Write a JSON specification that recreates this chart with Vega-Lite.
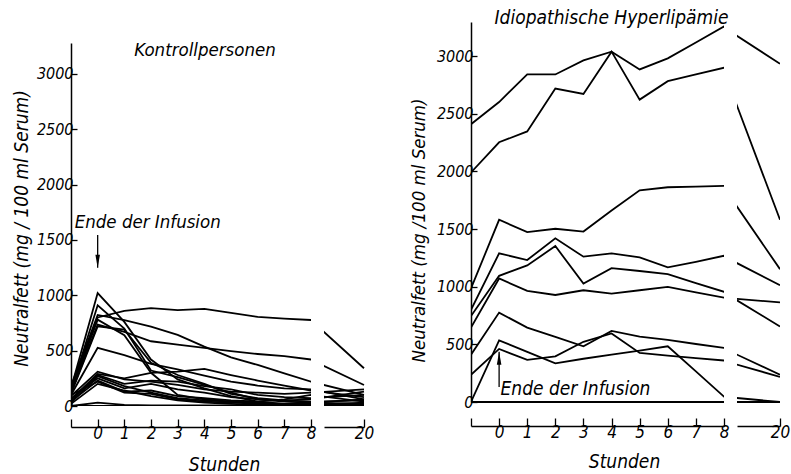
{
"$schema": "https://vega.github.io/schema/vega-lite/v6.json",
"background": "white",
"padding": {"left": 12, "top": 9, "right": 5, "bottom": 5},
"spacing": 13,
"bounds": "flush",
"config": {
  "view": {"stroke": null},
  "font": "DejaVu Sans Condensed, Liberation Sans Narrow, DejaVu Sans, sans-serif",
  "axis": {"grid": false, "labelOverlap": false, "labelFlush": false, "tickCount": 20, "labelFont": "DejaVu Sans Condensed, Liberation Sans Narrow, DejaVu Sans, sans-serif", "titleFont": "DejaVu Sans Condensed, Liberation Sans Narrow, DejaVu Sans, sans-serif", "labelFontStyle": "italic", "titleFontStyle": "italic", "titleFontWeight": "normal", "labelColor": "black", "titleColor": "black", "domainColor": "black", "tickColor": "black", "domainWidth": 1.5, "tickWidth": 1.3},
  "title": {"font": "DejaVu Sans Condensed, Liberation Sans Narrow, DejaVu Sans, sans-serif", "fontStyle": "italic", "fontWeight": "normal", "fontSize": 18.5, "color": "black"}
},
"datasets": {
"left": [
{"s":"K1","h":-1,"v":150},{"s":"K1","h":0,"v":800},{"s":"K1","h":1,"v":860},{"s":"K1","h":2,"v":885},{"s":"K1","h":3,"v":866},{"s":"K1","h":4,"v":878},{"s":"K1","h":5,"v":842},{"s":"K1","h":6,"v":805},{"s":"K1","h":7,"v":790},{"s":"K1","h":8,"v":777},{"s":"K1","h":20,"v":341},
{"s":"K2","h":-1,"v":120},{"s":"K2","h":0,"v":735},{"s":"K2","h":1,"v":670},{"s":"K2","h":2,"v":585},{"s":"K2","h":3,"v":555},{"s":"K2","h":4,"v":525},{"s":"K2","h":5,"v":495},{"s":"K2","h":6,"v":470},{"s":"K2","h":7,"v":450},{"s":"K2","h":8,"v":420},{"s":"K2","h":20,"v":190},
{"s":"K3","h":-1,"v":180},{"s":"K3","h":0,"v":823},{"s":"K3","h":1,"v":777},{"s":"K3","h":2,"v":717},{"s":"K3","h":3,"v":642},{"s":"K3","h":4,"v":536},{"s":"K3","h":5,"v":440},{"s":"K3","h":6,"v":371},{"s":"K3","h":7,"v":295},{"s":"K3","h":8,"v":220},{"s":"K3","h":20,"v":100},
{"s":"K4","h":-1,"v":100},{"s":"K4","h":0,"v":525},{"s":"K4","h":1,"v":460},{"s":"K4","h":2,"v":380},{"s":"K4","h":3,"v":330},{"s":"K4","h":4,"v":275},{"s":"K4","h":5,"v":220},{"s":"K4","h":6,"v":185},{"s":"K4","h":7,"v":160},{"s":"K4","h":8,"v":150},{"s":"K4","h":20,"v":60},
{"s":"K5","h":-1,"v":160},{"s":"K5","h":0,"v":1020},{"s":"K5","h":1,"v":760},{"s":"K5","h":2,"v":420},{"s":"K5","h":3,"v":240},{"s":"K5","h":4,"v":160},{"s":"K5","h":5,"v":90},{"s":"K5","h":6,"v":40},{"s":"K5","h":7,"v":20},{"s":"K5","h":8,"v":10},{"s":"K5","h":20,"v":30},
{"s":"K6","h":-1,"v":140},{"s":"K6","h":0,"v":910},{"s":"K6","h":1,"v":700},{"s":"K6","h":2,"v":320},{"s":"K6","h":3,"v":260},{"s":"K6","h":4,"v":190},{"s":"K6","h":5,"v":120},{"s":"K6","h":6,"v":60},{"s":"K6","h":7,"v":40},{"s":"K6","h":8,"v":30},{"s":"K6","h":20,"v":20},
{"s":"K7","h":-1,"v":130},{"s":"K7","h":0,"v":780},{"s":"K7","h":1,"v":640},{"s":"K7","h":2,"v":300},{"s":"K7","h":3,"v":100},{"s":"K7","h":4,"v":60},{"s":"K7","h":5,"v":40},{"s":"K7","h":6,"v":30},{"s":"K7","h":7,"v":20},{"s":"K7","h":8,"v":20},{"s":"K7","h":20,"v":10},
{"s":"K8","h":-1,"v":110},{"s":"K8","h":0,"v":720},{"s":"K8","h":1,"v":690},{"s":"K8","h":2,"v":390},{"s":"K8","h":3,"v":280},{"s":"K8","h":4,"v":200},{"s":"K8","h":5,"v":110},{"s":"K8","h":6,"v":70},{"s":"K8","h":7,"v":50},{"s":"K8","h":8,"v":40},{"s":"K8","h":20,"v":50},
{"s":"K9","h":-1,"v":60},{"s":"K9","h":0,"v":290},{"s":"K9","h":1,"v":250},{"s":"K9","h":2,"v":300},{"s":"K9","h":3,"v":310},{"s":"K9","h":4,"v":335},{"s":"K9","h":5,"v":280},{"s":"K9","h":6,"v":230},{"s":"K9","h":7,"v":185},{"s":"K9","h":8,"v":140},{"s":"K9","h":20,"v":80},
{"s":"K10","h":-1,"v":90},{"s":"K10","h":0,"v":310},{"s":"K10","h":1,"v":240},{"s":"K10","h":2,"v":220},{"s":"K10","h":3,"v":190},{"s":"K10","h":4,"v":150},{"s":"K10","h":5,"v":130},{"s":"K10","h":6,"v":120},{"s":"K10","h":7,"v":110},{"s":"K10","h":8,"v":120},{"s":"K10","h":20,"v":150},
{"s":"K11","h":-1,"v":50},{"s":"K11","h":0,"v":280},{"s":"K11","h":1,"v":200},{"s":"K11","h":2,"v":230},{"s":"K11","h":3,"v":220},{"s":"K11","h":4,"v":180},{"s":"K11","h":5,"v":150},{"s":"K11","h":6,"v":100},{"s":"K11","h":7,"v":80},{"s":"K11","h":8,"v":70},{"s":"K11","h":20,"v":100},
{"s":"K12","h":-1,"v":70},{"s":"K12","h":0,"v":250},{"s":"K12","h":1,"v":160},{"s":"K12","h":2,"v":200},{"s":"K12","h":3,"v":150},{"s":"K12","h":4,"v":120},{"s":"K12","h":5,"v":80},{"s":"K12","h":6,"v":60},{"s":"K12","h":7,"v":50},{"s":"K12","h":8,"v":60},{"s":"K12","h":20,"v":130},
{"s":"K13","h":-1,"v":40},{"s":"K13","h":0,"v":230},{"s":"K13","h":1,"v":130},{"s":"K13","h":2,"v":140},{"s":"K13","h":3,"v":90},{"s":"K13","h":4,"v":70},{"s":"K13","h":5,"v":50},{"s":"K13","h":6,"v":40},{"s":"K13","h":7,"v":60},{"s":"K13","h":8,"v":100},{"s":"K13","h":20,"v":40},
{"s":"K14","h":-1,"v":100},{"s":"K14","h":0,"v":220},{"s":"K14","h":1,"v":120},{"s":"K14","h":2,"v":110},{"s":"K14","h":3,"v":60},{"s":"K14","h":4,"v":40},{"s":"K14","h":5,"v":30},{"s":"K14","h":6,"v":20},{"s":"K14","h":7,"v":20},{"s":"K14","h":8,"v":30},{"s":"K14","h":20,"v":60},
{"s":"K15","h":-1,"v":30},{"s":"K15","h":0,"v":270},{"s":"K15","h":1,"v":180},{"s":"K15","h":2,"v":120},{"s":"K15","h":3,"v":70},{"s":"K15","h":4,"v":50},{"s":"K15","h":5,"v":40},{"s":"K15","h":6,"v":30},{"s":"K15","h":7,"v":10},{"s":"K15","h":8,"v":10},{"s":"K15","h":20,"v":20},
{"s":"K16","h":-1,"v":20},{"s":"K16","h":0,"v":200},{"s":"K16","h":1,"v":140},{"s":"K16","h":2,"v":90},{"s":"K16","h":3,"v":50},{"s":"K16","h":4,"v":30},{"s":"K16","h":5,"v":20},{"s":"K16","h":6,"v":10},{"s":"K16","h":7,"v":10},{"s":"K16","h":8,"v":0},{"s":"K16","h":20,"v":10},
{"s":"K17","h":-1,"v":0},{"s":"K17","h":0,"v":30},{"s":"K17","h":1,"v":10},{"s":"K17","h":2,"v":5},{"s":"K17","h":3,"v":5},{"s":"K17","h":4,"v":5},{"s":"K17","h":5,"v":5},{"s":"K17","h":6,"v":5},{"s":"K17","h":7,"v":0},{"s":"K17","h":8,"v":0},{"s":"K17","h":20,"v":0},
{"s":"Z","h":-1,"v":0},{"s":"Z","h":20,"v":0}
],
"right": [
{"s":"A","h":-1,"v":2409},{"s":"A","h":0,"v":2601},{"s":"A","h":1,"v":2840},{"s":"A","h":2,"v":2840},{"s":"A","h":3,"v":2962},{"s":"A","h":4,"v":3038},{"s":"A","h":5,"v":2884},{"s":"A","h":6,"v":2980},{"s":"A","h":7,"v":3118},{"s":"A","h":8,"v":3256},{"s":"A","h":20,"v":2933},
{"s":"B","h":-1,"v":1990},{"s":"B","h":0,"v":2252},{"s":"B","h":1,"v":2346},{"s":"B","h":2,"v":2718},{"s":"B","h":3,"v":2671},{"s":"B","h":4,"v":3038},{"s":"B","h":5,"v":2622},{"s":"B","h":6,"v":2782},{"s":"B","h":7,"v":2840},{"s":"B","h":8,"v":2898},{"s":"B","h":20,"v":1580},
{"s":"C","h":-1,"v":985},{"s":"C","h":0,"v":1580},{"s":"C","h":1,"v":1473},{"s":"C","h":2,"v":1502},{"s":"C","h":3,"v":1478},{"s":"C","h":4,"v":1661},{"s":"C","h":5,"v":1836},{"s":"C","h":6,"v":1862},{"s":"C","h":7,"v":1868},{"s":"C","h":8,"v":1874},{"s":"C","h":20,"v":1152},
{"s":"D","h":-1,"v":800},{"s":"D","h":0,"v":1289},{"s":"D","h":1,"v":1231},{"s":"D","h":2,"v":1420},{"s":"D","h":3,"v":1260},{"s":"D","h":4,"v":1289},{"s":"D","h":5,"v":1254},{"s":"D","h":6,"v":1167},{"s":"D","h":7,"v":1215},{"s":"D","h":8,"v":1268},{"s":"D","h":20,"v":1013},
{"s":"E","h":-1,"v":745},{"s":"E","h":0,"v":1094},{"s":"E","h":1,"v":1184},{"s":"E","h":2,"v":1352},{"s":"E","h":3,"v":1027},{"s":"E","h":4,"v":1160},{"s":"E","h":5,"v":1136},{"s":"E","h":6,"v":1109},{"s":"E","h":7,"v":1030},{"s":"E","h":8,"v":956},{"s":"E","h":20,"v":655},
{"s":"F","h":-1,"v":645},{"s":"F","h":0,"v":1071},{"s":"F","h":1,"v":963},{"s":"F","h":2,"v":928},{"s":"F","h":3,"v":969},{"s":"F","h":4,"v":940},{"s":"F","h":5,"v":969},{"s":"F","h":6,"v":998},{"s":"F","h":7,"v":951},{"s":"F","h":8,"v":905},{"s":"F","h":20,"v":864},
{"s":"G","h":-1,"v":410},{"s":"G","h":0,"v":775},{"s":"G","h":1,"v":645},{"s":"G","h":2,"v":565},{"s":"G","h":3,"v":483},{"s":"G","h":4,"v":617},{"s":"G","h":5,"v":567},{"s":"G","h":6,"v":538},{"s":"G","h":7,"v":503},{"s":"G","h":8,"v":469},{"s":"G","h":20,"v":236},
{"s":"H","h":-1,"v":236},{"s":"H","h":0,"v":460},{"s":"H","h":1,"v":365},{"s":"H","h":2,"v":396},{"s":"H","h":3,"v":522},{"s":"H","h":4,"v":594},{"s":"H","h":5,"v":425},{"s":"H","h":6,"v":402},{"s":"H","h":7,"v":380},{"s":"H","h":8,"v":360},{"s":"H","h":20,"v":218},
{"s":"I","h":-1,"v":0},{"s":"I","h":0,"v":535},{"s":"I","h":1,"v":435},{"s":"I","h":2,"v":335},{"s":"I","h":3,"v":375},{"s":"I","h":4,"v":410},{"s":"I","h":5,"v":445},{"s":"I","h":6,"v":483},{"s":"I","h":7,"v":265},{"s":"I","h":8,"v":46},{"s":"I","h":20,"v":0},
{"s":"Z","h":-1,"v":0},{"s":"Z","h":20,"v":0}
],
"annL": [{"t":"Ende der Infusion","h":-0.86,"v":1609}],
"arrL": [{"h":0,"v":1546,"v2":1250}],
"annR": [{"t":"Ende der Infusion","h":0.05,"v":61}],
"arrR": [{"h":0,"v":131,"v2":436}]
},
"hconcat": [
{
  "width": 240, "height": 384,
  "title": {"text": "Kontrollpersonen", "anchor": "middle", "offset": 0, "dx": 14, "dy": 52, "baseline": "alphabetic"},
  "layer": [
    {"data": {"name": "left"},
     "mark": {"type": "line", "color": "black", "strokeWidth": 1.8, "clip": true},
     "encoding": {
       "x": {"field": "h", "type": "quantitative", "scale": {"domain": [-1, 8], "nice": false, "zero": false},
             "axis": {"values": [-1,0,1,2,3,4,5,6,7,8], "tickCount": 20, "format": "d", "labelExpr": "datum.value < 0 ? '' : datum.label", "labelOverlap": false, "labelFlush": false, "title": "Stunden", "titleX": 153, "titleY": 37, "titleBaseline": "middle", "titleFontSize": 19, "offset": 21, "tickSize": -8, "labelPadding": 6, "labelFontSize": 17}},
       "y": {"field": "v", "type": "quantitative", "scale": {"domain": [0, 3280], "range": [384, 21], "nice": false},
             "axis": {"values": [0,500,1000,1500,2000,2500,3000], "tickCount": 20, "format": "d", "labelOverlap": false, "labelFlush": false, "title": "Neutralfett (mg / 100 ml Serum)", "titleX": -50, "titleY": 206, "titleBaseline": "middle", "titleFontSize": 19, "tickSize": -6, "labelPadding": 4, "labelFontSize": 16}},
       "detail": {"field": "s"}
     }},
    {"data": {"name": "annL"},
     "mark": {"type": "text", "align": "left", "baseline": "alphabetic", "fontSize": 18.5, "fontStyle": "italic", "color": "black"},
     "encoding": {"x": {"field": "h", "type": "quantitative", "scale": {"domain": [-1, 8], "nice": false, "zero": false}}, "y": {"field": "v", "type": "quantitative", "scale": {"domain": [0, 3280], "range": [384, 21], "nice": false}}, "text": {"field": "t"}}},
    {"data": {"name": "arrL"},
     "mark": {"type": "rule", "color": "black", "strokeWidth": 1.3},
     "encoding": {"x": {"field": "h", "type": "quantitative", "scale": {"domain": [-1, 8], "nice": false, "zero": false}}, "y": {"field": "v", "type": "quantitative", "scale": {"domain": [0, 3280], "range": [384, 21], "nice": false}}, "y2": {"field": "v2"}}},
    {"data": {"name": "arrL"},
     "mark": {"type": "point", "shape": "M-0.35,-2L0.35,-2L0,0Z", "filled": true, "size": 169, "color": "black", "opacity": 1},
     "encoding": {"x": {"field": "h", "type": "quantitative", "scale": {"domain": [-1, 8], "nice": false, "zero": false}}, "y": {"field": "v2", "type": "quantitative", "scale": {"domain": [0, 3280], "range": [384, 21], "nice": false}}}}
  ]
},
{
  "width": 134, "height": 384,
  "data": {"name": "left"},
  "mark": {"type": "line", "color": "black", "strokeWidth": 1.8, "clip": true},
  "encoding": {
    "x": {"field": "h", "type": "quantitative", "scale": {"domain": [11, 20], "range": [0, 40], "nice": false, "zero": false},
          "axis": {"values": [20], "format": "d", "labelOverlap": false, "labelFlush": false, "title": null, "offset": 21, "tickSize": -8, "labelPadding": 6, "labelFontSize": 17}},
    "y": {"field": "v", "type": "quantitative", "scale": {"domain": [0, 3280], "range": [384, 21], "nice": false}, "axis": null},
    "detail": {"field": "s"}
  }
},
{
  "width": 253, "height": 384,
  "title": {"text": "Idiopathische Hyperlipämie", "anchor": "middle", "offset": 0, "dx": 14, "dy": 21, "baseline": "alphabetic", "fontSize": 19},
  "layer": [
    {"data": {"name": "right"},
     "mark": {"type": "line", "color": "black", "strokeWidth": 1.8, "clip": true},
     "encoding": {
       "x": {"field": "h", "type": "quantitative", "scale": {"domain": [-1, 8], "nice": false, "zero": false},
             "axis": {"values": [-1,0,1,2,3,4,5,6,7,8], "tickCount": 20, "format": "d", "labelExpr": "datum.value < 0 ? '' : datum.label", "labelOverlap": false, "labelFlush": false, "title": "Stunden", "titleX": 153, "titleY": 35, "titleBaseline": "middle", "titleFontSize": 19, "offset": 20, "tickSize": -8, "labelPadding": 6, "labelFontSize": 17}},
       "y": {"field": "v", "type": "quantitative", "scale": {"domain": [0, 3295], "range": [380, 0], "nice": false},
             "axis": {"values": [0,500,1000,1500,2000,2500,3000], "tickCount": 20, "format": "d", "labelOverlap": false, "labelFlush": false, "title": "Neutralfett (mg /100 ml Serum)", "titleX": -53, "titleY": 208, "titleBaseline": "middle", "titleFontSize": 18.5, "tickSize": -6, "labelPadding": 4, "labelFontSize": 16}},
       "detail": {"field": "s"}
     }},
    {"data": {"name": "annR"},
     "mark": {"type": "text", "align": "left", "baseline": "alphabetic", "fontSize": 19, "fontStyle": "italic", "color": "black"},
     "encoding": {"x": {"field": "h", "type": "quantitative", "scale": {"domain": [-1, 8], "nice": false, "zero": false}}, "y": {"field": "v", "type": "quantitative", "scale": {"domain": [0, 3295], "range": [380, 0], "nice": false}}, "text": {"field": "t"}}},
    {"data": {"name": "arrR"},
     "mark": {"type": "rule", "color": "black", "strokeWidth": 1.3},
     "encoding": {"x": {"field": "h", "type": "quantitative", "scale": {"domain": [-1, 8], "nice": false, "zero": false}}, "y": {"field": "v", "type": "quantitative", "scale": {"domain": [0, 3295], "range": [380, 0], "nice": false}}, "y2": {"field": "v2"}}},
    {"data": {"name": "arrR"},
     "mark": {"type": "point", "shape": "M-0.35,2L0.35,2L0,0Z", "filled": true, "size": 169, "color": "black", "opacity": 1},
     "encoding": {"x": {"field": "h", "type": "quantitative", "scale": {"domain": [-1, 8], "nice": false, "zero": false}}, "y": {"field": "v2", "type": "quantitative", "scale": {"domain": [0, 3295], "range": [380, 0], "nice": false}}}}
  ]
},
{
  "width": 43, "height": 384,
  "data": {"name": "right"},
  "mark": {"type": "line", "color": "black", "strokeWidth": 1.8, "clip": true},
  "encoding": {
    "x": {"field": "h", "type": "quantitative", "scale": {"domain": [11, 20], "range": [0, 43], "nice": false, "zero": false},
          "axis": {"values": [20], "format": "d", "labelOverlap": false, "labelFlush": false, "title": null, "offset": 20, "tickSize": -8, "labelPadding": 6, "labelFontSize": 17}},
    "y": {"field": "v", "type": "quantitative", "scale": {"domain": [0, 3295], "range": [380, 0], "nice": false}, "axis": null},
    "detail": {"field": "s"}
  }
}
]
}
